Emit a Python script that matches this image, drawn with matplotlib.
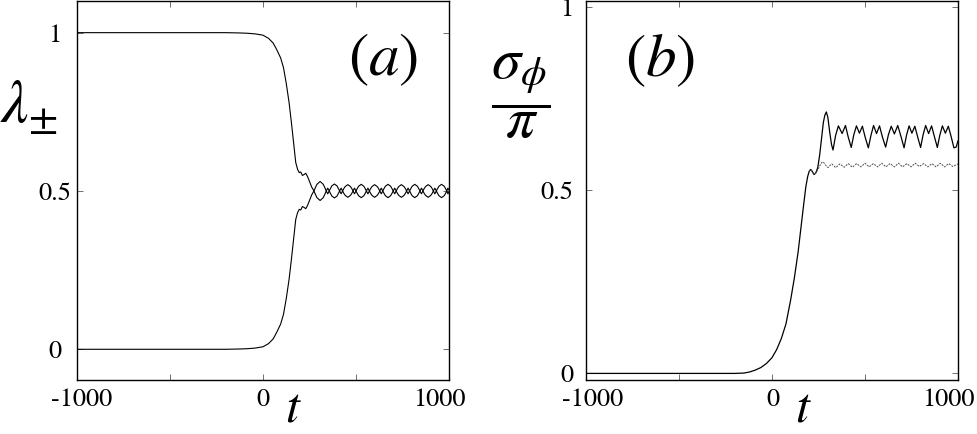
import matplotlib
matplotlib.use('Agg')
import matplotlib.pyplot as plt
from matplotlib.transforms import ScaledTranslation

plt.rcParams['font.family'] = ['STIXGeneral', 'DejaVu Serif']
plt.rcParams['mathtext.fontset'] = 'stix'

# ---------- panel (a): eigenvalues lambda_+ / lambda_- ----------
t_a = [-1000, -200, -120, -80, -40, 0, 30, 55, 75, 95, 110, 125, 140, 152, 164,
       176, 186, 195, 203, 212, 221, 230, 240, 250, 262, 274,
       282, 290, 307, 324, 332, 340, 348, 356,
       363, 370, 384, 398, 405, 412, 420, 428,
       435, 442, 456, 470, 477, 484, 492, 500,
       507, 514, 528, 542, 549, 556, 564, 572,
       579, 586, 600, 614, 621, 628, 636, 644,
       651, 658, 672, 686, 693, 700, 708, 716,
       723, 730, 744, 758, 765, 772, 780, 788,
       795, 802, 816, 830, 837, 844, 852, 860,
       867, 874, 888, 902, 909, 916, 924, 932,
       939, 946, 960, 974, 981, 988, 994, 1000]

lam_plus = [1.0, 1.0, 0.999, 0.998, 0.996, 0.992, 0.982, 0.967, 0.945, 0.92, 0.89, 0.84, 0.78, 0.72, 0.655,
            0.59, 0.568, 0.558, 0.56, 0.549, 0.552, 0.556, 0.545, 0.53, 0.512, 0.5,
            0.511, 0.521, 0.530, 0.521, 0.511, 0.500, 0.509, 0.500,
            0.508, 0.516, 0.522, 0.516, 0.508, 0.500, 0.509, 0.500,
            0.508, 0.514, 0.520, 0.514, 0.508, 0.500, 0.509, 0.500,
            0.508, 0.515, 0.521, 0.515, 0.508, 0.500, 0.509, 0.500,
            0.508, 0.514, 0.520, 0.514, 0.508, 0.500, 0.509, 0.500,
            0.508, 0.515, 0.521, 0.515, 0.508, 0.500, 0.509, 0.500,
            0.508, 0.514, 0.520, 0.514, 0.508, 0.500, 0.509, 0.500,
            0.508, 0.515, 0.521, 0.515, 0.508, 0.500, 0.509, 0.500,
            0.508, 0.514, 0.520, 0.514, 0.508, 0.500, 0.509, 0.500,
            0.508, 0.515, 0.521, 0.515, 0.508, 0.500, 0.509, 0.503]

lam_minus = [0.0, 0.0, 0.001, 0.002, 0.004, 0.008, 0.018, 0.033, 0.055, 0.08, 0.11, 0.16, 0.22, 0.28, 0.345,
             0.41, 0.432, 0.442, 0.44, 0.451, 0.448, 0.444, 0.455, 0.47, 0.488, 0.5,
             0.489, 0.479, 0.470, 0.479, 0.489, 0.500, 0.491, 0.500,
             0.492, 0.484, 0.478, 0.484, 0.492, 0.500, 0.491, 0.500,
             0.492, 0.486, 0.480, 0.486, 0.492, 0.500, 0.491, 0.500,
             0.492, 0.485, 0.479, 0.485, 0.492, 0.500, 0.491, 0.500,
             0.492, 0.486, 0.480, 0.486, 0.492, 0.500, 0.491, 0.500,
             0.492, 0.485, 0.479, 0.485, 0.492, 0.500, 0.491, 0.500,
             0.492, 0.486, 0.480, 0.486, 0.492, 0.500, 0.491, 0.500,
             0.492, 0.485, 0.479, 0.485, 0.492, 0.500, 0.491, 0.500,
             0.492, 0.486, 0.480, 0.486, 0.492, 0.500, 0.491, 0.500,
             0.492, 0.485, 0.479, 0.485, 0.492, 0.500, 0.491, 0.497]

# ---------- panel (b): sigma_phi / pi ----------
t_b = [-1000, -200, -150, -120, -90, -60, -30, 0, 25, 50, 75, 100, 120, 140, 155, 170,
       182, 192, 200, 208, 216, 226, 236, 246, 256, 266, 276, 284, 292, 300, 310, 320, 328,
       342, 357, 377, 395, 410, 426,
       440, 454, 470, 486, 502, 518,
       532, 546, 562, 578, 594, 611,
       626, 641, 658, 676, 694, 710,
       723, 737, 752, 768, 784, 799,
       812, 826, 842, 858, 874, 889,
       902, 916, 932, 948, 964, 978,
       990, 1000]
sig_solid = [0.0, 0.0, 0.001, 0.004, 0.009, 0.016, 0.027, 0.043, 0.065, 0.095, 0.135, 0.2, 0.26, 0.33, 0.395, 0.46,
             0.51, 0.538, 0.552, 0.557, 0.552, 0.543, 0.548, 0.562, 0.595, 0.64, 0.685, 0.705, 0.714, 0.70, 0.66, 0.625, 0.61,
             0.65, 0.676, 0.655, 0.677, 0.645, 0.617,
             0.652, 0.676, 0.656, 0.675, 0.643, 0.616,
             0.65, 0.677, 0.655, 0.676, 0.645, 0.618,
             0.652, 0.675, 0.654, 0.677, 0.646, 0.616,
             0.65, 0.676, 0.656, 0.675, 0.644, 0.617,
             0.651, 0.677, 0.655, 0.676, 0.645, 0.617,
             0.65, 0.676, 0.656, 0.675, 0.645, 0.616,
             0.618, 0.635]

t_b2 = [200, 208, 216, 226, 236, 248, 260, 271, 282, 292, 302, 312, 322,
        342, 365, 388, 410, 432, 455, 478, 500, 522, 545, 568, 590, 612, 635, 658, 680,
        702, 725, 748, 770, 792, 815, 838, 860, 882, 905, 928, 950, 972, 1000]
sig_dashed = [0.552, 0.557, 0.552, 0.543, 0.548, 0.558, 0.57, 0.578, 0.574, 0.566, 0.562, 0.568, 0.572,
              0.562, 0.572, 0.563, 0.573, 0.563, 0.573, 0.564, 0.574, 0.564, 0.573, 0.564, 0.574, 0.564, 0.573, 0.564, 0.574,
              0.564, 0.573, 0.564, 0.574, 0.565, 0.573, 0.564, 0.573, 0.564, 0.574, 0.564, 0.573, 0.565, 0.572]

W, H = 977, 434
fig = plt.figure(figsize=(W / 100, H / 100), dpi=100)
fig.patch.set_facecolor('white')


def px_box(x0, x1, y0, y1):
    # pixel box (from top-left) -> figure fraction rect
    return [x0 / W, 1 - y1 / H, (x1 - x0) / W, (y1 - y0) / H]


def style_axes(ax, shifts):
    for s in ax.spines.values():
        s.set_linewidth(1.0)
        s.set_color('black')
    ax.set_xlim(-1000, 1000)
    ax.set_xticks([-1000, -500, 0, 500, 1000])
    ax.set_xticklabels(['-1000', '', '0', '', '1000'])
    ax.tick_params(direction='in', top=True, right=True, length=4, width=0.6,
                   color='0.35', labelsize=19)
    ax.tick_params(axis='x', pad=6)
    # nudge the end labels a few pixels like in the original
    for lab, dx in zip(ax.get_xticklabels(), shifts):
        if dx:
            lab.set_transform(lab.get_transform() +
                              ScaledTranslation(dx / 100, 0, fig.dpi_scale_trans))


ax1 = fig.add_axes(px_box(77, 449, 1, 380))
ax1.plot(t_a, lam_plus, color='black', lw=0.8)
ax1.plot(t_a, lam_minus, color='black', lw=0.8)
style_axes(ax1, [5, 0, 0, 0, -10])
ax1.set_ylim(-0.097, 1.10)
ax1.set_yticks([0, 0.5, 1])
ax1.set_yticklabels(['0', '0.5', '1'])
ax1.tick_params(axis='y', pad=16)
for lab in ax1.get_yticklabels():
    lab.set_horizontalalignment('center')

ax2 = fig.add_axes(px_box(586, 958, 1, 380))
ax2.plot(t_b, sig_solid, color='black', lw=0.9)
ax2.plot(t_b2, sig_dashed, color='0.3', lw=0.7, linestyle=(0, (2, 1.2)))
style_axes(ax2, [7, 0, 1, 0, -10])
ax2.set_ylim(-0.018, 1.017)
ax2.set_yticks([0, 0.5, 1])
ax2.set_yticklabels(['0', '0.5', '1'])
ax2.tick_params(axis='y', pad=9)

# labels
fig.text(0 / W, 1 - 108 / H, r'$\lambda_{\pm}$', fontsize=44, ha='left', va='center')
fig.text(521 / W, 1 - 96 / H, r'$\dfrac{\sigma_\phi}{\pi}$', fontsize=42, ha='center', va='center')
fig.text(293 / W, 1 - 410 / H, r'$t$', fontsize=36, ha='center', va='center')
fig.text(803 / W, 1 - 410 / H, r'$t$', fontsize=36, ha='center', va='center')
fig.text(383 / W, 1 - 60 / H, r'$(a)$', fontsize=44, ha='center', va='center')
fig.text(660 / W, 1 - 60 / H, r'$(b)$', fontsize=44, ha='center', va='center')

fig.savefig('out.png', dpi=100, facecolor='white')
